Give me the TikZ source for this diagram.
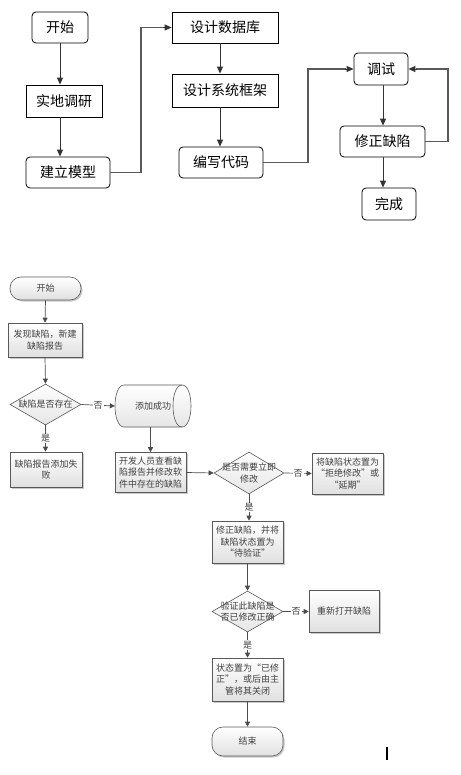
\documentclass[tikz,border=0pt]{standalone}
\usepackage{fontspec}
\newfontfamily\cjk{Noto Sans CJK SC}
\usetikzlibrary{arrows.meta,shapes.geometric,shadows,calc}
\tikzset{
  topbox/.style={draw=black, line width=0.8pt, font=\cjk\fontsize{14}{16}\selectfont, inner sep=0pt},
  topround/.style={topbox, rounded corners=4pt},
  toparr/.style={draw=black!80, line width=0.9pt, -{Triangle[length=7pt,width=6pt]}},
  topline/.style={draw=black!65, line width=1.2pt},
  bbox/.style={draw=black!65, line width=0.6pt, top color=white, bottom color=black!12,
    drop shadow={shadow xshift=1.5pt, shadow yshift=-1.5pt, fill=black!35, opacity=0.6},
    font=\cjk\fontsize{9}{11.5}\selectfont, text=black!75, align=center, inner sep=0pt},
  bterm/.style={bbox, rounded corners=11pt},
  bdia/.style={shape=diamond, draw=black!65, line width=0.6pt, top color=white, bottom color=black!10, inner sep=0pt},
  btxt/.style={font=\cjk\fontsize{9}{11.5}\selectfont, text=black!75, align=center, inner sep=0pt},
  cylline/.style={draw=black!65, line width=0.6pt},
  barr/.style={draw=black!70, line width=0.7pt, -{Triangle[length=5pt,width=5pt]}},
  lbl/.style={font=\cjk\fontsize{9}{10}\selectfont, text=black!75, fill=white, inner sep=1pt},
}
\begin{document}
\begin{tikzpicture}[x=1pt,y=-1pt]
\useasboundingbox (0,0) rectangle (460,775);
\fill[white] (0,0) rectangle (460,775);
% ---------- top diagram ----------
\node[topround, minimum width=56pt, minimum height=31pt] (ks) at (60,27.5) {开始};
\node[topbox, minimum width=76pt, minimum height=32pt] (sd) at (64,101) {实地调研};
\node[topround, minimum width=84pt, minimum height=31pt] (jl) at (68,172.5) {建立模型};
\node[topbox, minimum width=106pt, minimum height=31pt] (sj) at (225,27.5) {设计数据库};
\node[topbox, minimum width=106pt, minimum height=33pt] (kj) at (225,90.5) {设计系统框架};
\node[topround, minimum width=84pt, minimum height=31pt] (dm) at (221,162.5) {编写代码};
\node[topround, minimum width=54pt, minimum height=32pt] (ts) at (381,69) {调试};
\node[topround, minimum width=85pt, minimum height=31pt] (xz) at (382.5,141.5) {修正缺陷};
\node[topround, minimum width=54pt, minimum height=32pt] (wc) at (389,204) {完成};
\coordinate (xa) at (60,0);
\coordinate (xb) at (220,0);
\coordinate (xc) at (383,0);
\coordinate (j1) at (141,0);
\coordinate (j2) at (308,0);
\coordinate (j3) at (448,0);
\draw[toparr] (ks.south) -- (ks.south |- sd.north);
\draw[toparr] (xa |- sd.south) -- (xa |- jl.north);
\draw[toparr] (xb |- sj.south) -- (xb |- kj.north);
\draw[toparr] (xb |- kj.south) -- (xb |- dm.north);
\draw[toparr] (xc |- ts.south) -- (xc |- xz.north);
\draw[toparr] (xc |- xz.south) -- (xc |- wc.north);
\draw[topline] (jl.east) -- (jl.east -| j1) -- (j1 |- sj.west) -- ($(sj.west)+(-8,0)$);
\draw[toparr] ($(sj.west)+(-9,0)$) -- (sj.west);
\draw[topline] (dm.east) -- (dm.east -| j2) -- (j2 |- ts.west) -- ($(ts.west)+(-8,0)$);
\draw[toparr] ($(ts.west)+(-9,0)$) -- (ts.west);
\draw[topline] (xz.east) -- (xz.east -| j3) -- (j3 |- ts.east) -- ($(ts.east)+(8,0)$);
\draw[toparr] ($(ts.east)+(9,0)$) -- (ts.east);
% ---------- bottom flowchart ----------
\node[bterm, minimum width=71pt, minimum height=23pt] (s2) at (45.5,288.5) {开始};
\node[bbox, minimum width=74pt, minimum height=34pt] (b1) at (45,340) {发现缺陷，新建\\缺陷报告};
\node[bdia, minimum width=71pt, minimum height=41pt] (d1) at (45.5,404.5) {};
\node[btxt] (d1t) at (d1) {缺陷是否存在};
% drum (horizontal cylinder)
\coordinate (cyc) at (153,406);
\path[cylline, top color=white, bottom color=black!10]
  ($(cyc)+(-29,-21)$) -- ($(cyc)+(29,-21)$)
  .. controls ($(cyc)+(41,-21)$) and ($(cyc)+(41,21)$) .. ($(cyc)+(29,21)$)
  -- ($(cyc)+(-29,21)$)
  .. controls ($(cyc)+(-41,21)$) and ($(cyc)+(-41,-21)$) .. cycle;
\draw[cylline] ($(cyc)+(29,-21)$) .. controls ($(cyc)+(17,-21)$) and ($(cyc)+(17,21)$) .. ($(cyc)+(29,21)$);
\node[btxt, minimum width=76pt, minimum height=42pt] (cy) at (cyc) {添加成功};
\node[bbox, minimum width=72pt, minimum height=35pt] (b2) at (46,469.5) {缺陷报告添加失\\败};
\node[bbox, minimum width=71pt, minimum height=40pt] (b3) at (150.5,472.5) {开发人员查看缺\\陷报告并修改软\\件中存在的缺陷};
\node[bdia, minimum width=70pt, minimum height=42pt] (d2) at (249,473) {};
\node[btxt] (d2t) at (d2) {是否需要立即\\修改};
\node[bbox, minimum width=71pt, minimum height=41pt] (b4) at (347.5,473.5) {将缺陷状态置为\\“拒绝修改”或\\“延期”};
\node[bbox, minimum width=71pt, minimum height=42pt] (b5) at (247.5,542) {修正缺陷，并将\\缺陷状态置为\\“待验证”};
\node[bdia, minimum width=71pt, minimum height=41pt] (d3) at (247.5,611.5) {};
\node[btxt] (d3t) at (d3) {验证此缺陷是\\否已修改正确};
\node[bbox, minimum width=70pt, minimum height=42pt] (b6) at (344,611) {重新打开缺陷};
\node[bbox, minimum width=71pt, minimum height=43pt] (b7) at (247.5,679.5) {状态置为“已修\\正”，或后由主\\管将其关闭};
\node[bterm, minimum width=71pt, minimum height=29pt] (e2) at (247.5,741.5) {结束};
\draw[barr] (s2.south) -- (b1.north);
\draw[barr] (b1.south) -- (d1.north);
\draw[barr] (d1.east) -- node[lbl]{否} (cy.west);
\draw[barr] (d1.south) -- node[lbl]{是} (d1.south |- b2.north);
\draw[barr] (cy.south -| b3.north) -- (b3.north);
\draw[barr] (b3.east) -- (d2.west);
\draw[barr] (d2.east) -- node[lbl]{否} (b4.west);
\draw[barr] (d2.south) -- node[lbl]{是} (d2.south |- b5.north);
\draw[barr] (d3.south |- b5.south) -- (d3.north);
\draw[barr] (d3.east) -- node[lbl]{否} (d3.east -| b6.west);
\draw[barr] (d3.south) -- node[lbl]{是} (b7.north);
\draw[barr] (b7.south) -- (e2.north);
\coordinate (c1) at (387,747);
\coordinate (c2) at (387,760);
\draw[black, line width=1.6pt] (c1) -- (c2);
\end{tikzpicture}
\end{document}
